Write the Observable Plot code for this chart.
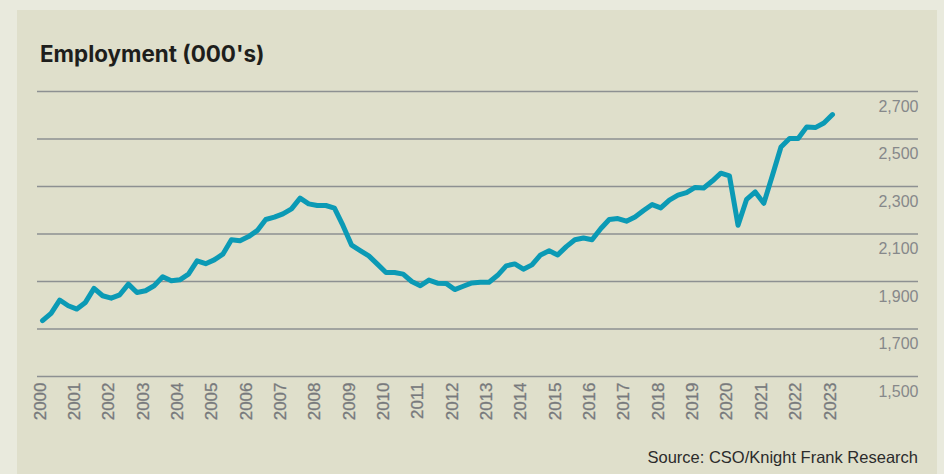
<!DOCTYPE html>
<html>
<head>
<meta charset="utf-8">
<script src="https://cdn.jsdelivr.net/npm/d3@7"></script>
<script src="https://cdn.jsdelivr.net/npm/@observablehq/plot@0.6"></script>
<style>
  html, body { margin: 0; padding: 0; }
  body { width: 944px; height: 474px; background: #e9eadd; position: relative; overflow: hidden; font-family: "Liberation Sans", Arial, sans-serif; }
  #panel { position: absolute; left: 17px; top: 10px; width: 920px; height: 470px; background: #dfdfcb; }
  #title { position: absolute; left: 40px; top: 43px; font-family: Inter, "Liberation Sans", Arial, sans-serif; font-weight: 700; font-size: 22.4px; line-height: 22px; color: #1e1e1c; white-space: nowrap; }
  #chart { position: absolute; left: 0; top: 0; }
  #source { position: absolute; right: 26px; top: 449px; font-size: 16.5px; line-height: 17px; color: #2b2b2b; white-space: nowrap; }
</style>
</head>
<body>
<div id="panel"></div>
<div id="chart"></div>
<div id="title">Employment (000's)</div>
<div id="source">Source: CSO/Knight Frank Research</div>
<script>
// Quarterly employment (000's), 2000 Q1 to 2023 Q1
const employment = [
  1735, 1766, 1822, 1798,   // 2000
  1784, 1812, 1871, 1840,   // 2001
  1830, 1844, 1889, 1854,   // 2002
  1861, 1882, 1920, 1903,   // 2003
  1907, 1931, 1987, 1975,   // 2004
  1991, 2015, 2076, 2072,   // 2005
  2089, 2114, 2161, 2171,   // 2006
  2185, 2206, 2251, 2227,   // 2007
  2220, 2220, 2209, 2135,   // 2008
  2053, 2030, 2008, 1973,   // 2009
  1938, 1938, 1931, 1900,   // 2010
  1882, 1906, 1893, 1892,   // 2011
  1866, 1880, 1894, 1897,   // 2012
  1897, 1926, 1966, 1974,   // 2013
  1952, 1970, 2012, 2029,   // 2014
  2012, 2047, 2076, 2083,   // 2015
  2076, 2122, 2161, 2165,   // 2016
  2154, 2172, 2199, 2224,   // 2017
  2210, 2243, 2264, 2274,   // 2018
  2296, 2294, 2323, 2356,   // 2019
  2345, 2137, 2246, 2277,   // 2020
  2229, 2346, 2466, 2502,   // 2021
  2502, 2551, 2548, 2567,   // 2022
  2603                      // 2023
];
const startYear = 2000;
const yearLabels = d3.range(2000, 2024);
const yTicks = [1500, 1700, 1900, 2100, 2300, 2500, 2700];

const data = employment.map((v, i) => ({t: startYear + Math.floor(i / 4) + (i % 4) / 4, v}));

const fmt = d3.format(",");

const chart = Plot.plot({
  width: 944,
  height: 440,
  marginTop: 91,
  marginBottom: 64,
  marginLeft: 37,
  marginRight: 26,
  style: {background: "transparent", fontFamily: "'Liberation Sans', Arial, sans-serif", overflow: "visible"},
  x: {domain: [2000, 2023], range: [42, 832], axis: null},
  y: {domain: [1500, 2700], axis: null},
  marks: [
    Plot.ruleY(yTicks, {y: d => d, stroke: "#8d9092", strokeWidth: 1.3}),
    Plot.text(yTicks, {y: d => d, text: d => fmt(d), frameAnchor: "right", textAnchor: "end", dy: 15, fontSize: 16, fill: "#86888a"}),
    Plot.text(yearLabels, {x: d => d, text: d => String(d), frameAnchor: "bottom", rotate: -90, textAnchor: "end", dy: 6, dx: 3, fontSize: 17, fill: "#77797c", stroke: "#77797c", strokeWidth: 0.3}),
    Plot.line(data, {x: "t", y: "v", stroke: "#0b9ab5", strokeWidth: 5, strokeLinejoin: "round", strokeLinecap: "round"})
  ]
});
document.getElementById("chart").appendChild(chart);
</script>
</body>
</html>
